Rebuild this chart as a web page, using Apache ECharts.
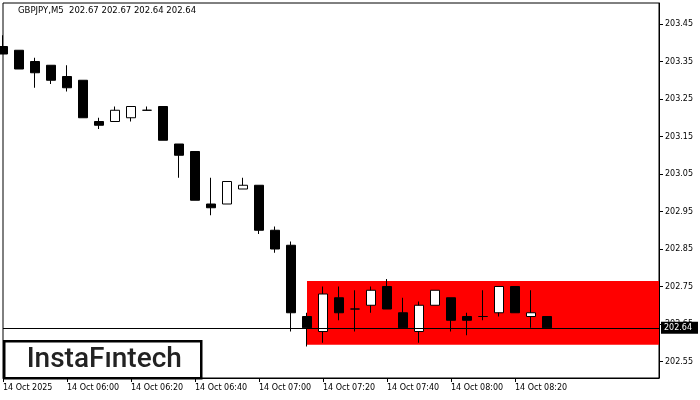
<!DOCTYPE html>
<html>
<head>
<meta charset="utf-8">
<script src="https://cdn.jsdelivr.net/npm/echarts@6/dist/echarts.min.js"></script>
<style>
html,body{margin:0;padding:0;background:#fff;}
#chart{width:700px;height:400px;}
</style>
</head>
<body>
<div id="chart"></div>
<script>
// ---- data ----
const categories = ['05:40','05:45','05:50','05:55','06:00','06:05','06:10','06:15','06:20','06:25','06:30','06:35',
  '06:40','06:45','06:50','06:55','07:00','07:05','07:10','07:15','07:20','07:25','07:30','07:35','07:40','07:45',
  '07:50','07:55','08:00','08:05','08:10','08:15','08:20','08:25','08:30','08:35','08:40','08:45','08:50','08:55',
  '09:00','09:05'];
const opens  = [203.39,203.38,203.35,203.34,203.31,203.30,203.19,203.19,203.20,203.22,203.23,203.13,203.11,202.97,202.97,203.01,203.02,202.90,202.86,202.67,202.63,202.72,202.69,202.70,202.75,202.68,202.63,202.70,202.72,202.67,202.67,202.68,202.75,202.67,202.67];
const closes = [203.37,203.33,203.32,203.30,203.28,203.20,203.18,203.22,203.23,203.22,203.14,203.10,202.98,202.96,203.03,203.02,202.90,202.85,202.68,202.64,202.73,202.68,202.69,202.74,202.69,202.64,202.70,202.74,202.66,202.66,202.67,202.75,202.68,202.68,202.64];
const lows   = [203.37,203.33,203.28,203.29,203.27,203.20,203.17,203.19,203.19,203.22,203.14,203.04,202.98,202.94,202.97,203.01,202.89,202.84,202.63,202.59,202.60,202.66,202.63,202.68,202.69,202.64,202.60,202.70,202.63,202.62,202.66,202.67,202.68,202.64,202.64];
const highs  = [203.42,203.38,203.36,203.34,203.34,203.30,203.20,203.23,203.23,203.23,203.23,203.13,203.11,203.04,203.03,203.04,203.02,202.91,202.87,202.68,202.75,202.75,202.74,202.75,202.77,202.72,202.71,202.74,202.72,202.68,202.74,202.75,202.75,202.74,202.67];
const yTicks = [202.55,202.65,202.75,202.85,202.95,203.05,203.15,203.25,203.35,203.45];
const xTickLabels = ['14 Oct 2025','14 Oct 06:00','14 Oct 06:20','14 Oct 06:40','14 Oct 07:00','14 Oct 07:20','14 Oct 07:40','14 Oct 08:00','14 Oct 08:20'];
const xTickCats = ['05:40','06:00','06:20','06:40','07:00','07:20','07:40','08:00','08:20'];
const zoneStart = '07:15';
const zoneEnd = '09:05';
const zoneLow = 202.595;
const zoneHigh = 202.765;
const lastPrice = 202.64;
const titleText = 'GBPJPY,M5  202.67 202.67 202.64 202.64';
const yMin = 202.506, yMax = 203.506;

const candleData = opens.map((o, i) => [o, closes[i], lows[i], highs[i]]);
const FONT = 'DejaVu Sans';

const chart = echarts.init(document.getElementById('chart'), null, {renderer: 'canvas'});
chart.setOption({
  animation: false,
  backgroundColor: '#fff',
  title: {
    text: titleText, left: 18, top: 6, padding: 0,
    textStyle: {fontFamily: FONT, fontSize: 8.5, fontWeight: 'normal', color: '#000'}
  },
  grid: {left: 2, right: 41, top: 3, bottom: 22, show: true, borderColor: '#000', borderWidth: 1, backgroundColor: 'transparent'},
  xAxis: {
    type: 'category', data: categories, boundaryGap: false,
    axisLine: {show: true, lineStyle: {color: '#000', width: 1}},
    axisTick: {show: true, length: 4, lineStyle: {color: '#000'},
      interval: (idx, val) => xTickCats.indexOf(val) >= 0},
    axisLabel: {
      interval: (idx, val) => xTickCats.indexOf(val) >= 0,
      formatter: (val) => { const k = xTickCats.indexOf(val); return k >= 0 ? xTickLabels[k] : ''; },
      align: 'left', margin: 6, color: '#000', fontFamily: FONT, fontSize: 8
    },
    splitLine: {show: false}
  },
  yAxis: {
    type: 'value', position: 'right', min: yMin, max: yMax, scale: true,
    axisLine: {show: true, lineStyle: {color: '#000', width: 1}},
    axisTick: {show: true, length: 4, lineStyle: {color: '#000'}, customValues: yTicks},
    axisLabel: {customValues: yTicks, formatter: (v) => v.toFixed(2), margin: 6, color: '#000', fontFamily: FONT, fontSize: 8},
    splitLine: {show: false}
  },
  series: [{
    type: 'candlestick',
    data: candleData,
    barWidth: 10,
    clip: true,
    itemStyle: {color: '#fff', color0: '#000', borderColor: '#000', borderColor0: '#000', borderWidth: 1},
    markArea: {
      silent: true,
      itemStyle: {color: '#ff0000', opacity: 1},
      data: [[{xAxis: zoneStart, yAxis: zoneLow}, {xAxis: zoneEnd, yAxis: zoneHigh}]]
    },
    markLine: {
      silent: true, symbol: 'none', z: 10,
      lineStyle: {color: '#000', width: 1, type: 'solid'},
      label: {
        show: true, position: 'end', distance: 2,
        formatter: () => lastPrice.toFixed(2),
        color: '#fff', backgroundColor: '#000', padding: [2, 6, 2, 3],
        fontFamily: FONT, fontSize: 8
      },
      data: [{yAxis: lastPrice}]
    }
  }],
  graphic: [{
    type: 'group', left: 3, top: 340, z: 100,
    children: [
      {type: 'rect', shape: {x: 1, y: 1, width: 197, height: 37}, style: {fill: '#fff', stroke: '#000', lineWidth: 2.5}},
      {type: 'text', x: 101, y: 20, style: {text: 'InstaFıntech', fill: '#222', font: '500 28px Roboto', textAlign: 'center', textVerticalAlign: 'middle'}}
    ]
  }]
});
</script>
</body>
</html>
